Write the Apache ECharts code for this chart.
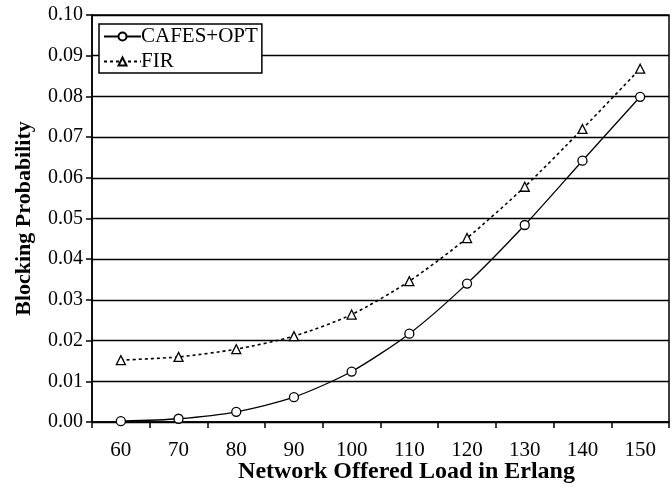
<!DOCTYPE html>
<html><head><meta charset="utf-8">
<script src="https://cdn.jsdelivr.net/npm/echarts@6/dist/echarts.min.js"></script>
<style>html,body{margin:0;padding:0;background:#fff}#c{width:672px;height:493px}</style>
</head><body><div id="c"></div>
<script>
const categories = ['60','70','80','90','100','110','120','130','140','150'];
const cafesOpt = [0.0002, 0.0008, 0.0025, 0.0061, 0.0124, 0.0217, 0.034, 0.0484, 0.0642, 0.0799];
const fir = [0.0152, 0.016, 0.0179, 0.0211, 0.0264, 0.0346, 0.0452, 0.0578, 0.072, 0.0868];
const font = 'Liberation Serif, Times New Roman, serif';
const chart = echarts.init(document.getElementById('c'));
chart.setOption({
  animation: false,
  backgroundColor: '#fff',
  grid: {left: 92, right: 3, top: 15, bottom: 71, show: true, borderColor: '#000', borderWidth: 1.5, containLabel: false, outerBoundsMode: 'none'},
  legend: {
    left: 99, top: 24, orient: 'vertical', backgroundColor: '#fff',
    borderColor: '#000', borderWidth: 1.5, borderRadius: 0, padding: [2, 4, 1, 4],
    itemWidth: 37, itemHeight: 10, itemGap: 4,
    textStyle: {fontFamily: font, fontSize: 21, color: '#000', padding: [0,0,0,-5]},
    data: ['CAFES+OPT', 'FIR']
  },
  xAxis: {
    type: 'category', data: categories, boundaryGap: true,
    name: 'Network Offered Load in Erlang', nameLocation: 'middle', nameGap: 38, nameMoveOverlap: false,
    nameTextStyle: {fontFamily: font, fontSize: 24, fontWeight: 'bold', color: '#000', padding: [0, 0, 0, 52]},
    axisLine: {lineStyle: {color: '#000', width: 1.5}},
    axisTick: {show: true, length: 6, alignWithLabel: false, lineStyle: {color: '#000', width: 1.5}},
    axisLabel: {fontFamily: font, fontSize: 21, color: '#000', margin: 18},
    splitLine: {show: false}
  },
  yAxis: {
    type: 'value', min: 0, max: 0.1, interval: 0.01,
    name: 'Blocking Probability', nameLocation: 'middle', nameGap: 57, nameRotate: 90, nameMoveOverlap: false,
    nameTextStyle: {fontFamily: font, fontSize: 22, fontWeight: 'bold', color: '#000'},
    axisLine: {show: true, lineStyle: {color: '#000', width: 1.5}},
    axisTick: {show: true, length: 6, lineStyle: {color: '#000', width: 1.5}},
    axisLabel: {fontFamily: font, fontSize: 20, color: '#000', margin: 9, formatter: v => v.toFixed(2)},
    splitLine: {show: true, lineStyle: {color: '#000', width: 1.3}}
  },
  series: [
    {name: 'CAFES+OPT', type: 'line', data: cafesOpt, smooth: 0.25,
     symbol: 'circle', symbolSize: 9,
     itemStyle: {color: '#fff', borderColor: '#000', borderWidth: 1.3},
     lineStyle: {color: '#000', width: 1.3}},
    {name: 'FIR', type: 'line', data: fir, smooth: 0.25,
     symbol: 'triangle', symbolSize: 9,
     itemStyle: {color: '#fff', borderColor: '#000', borderWidth: 1.3},
     lineStyle: {color: '#000', width: 1.6, type: [3, 3]}}
  ]
});
</script></body></html>
